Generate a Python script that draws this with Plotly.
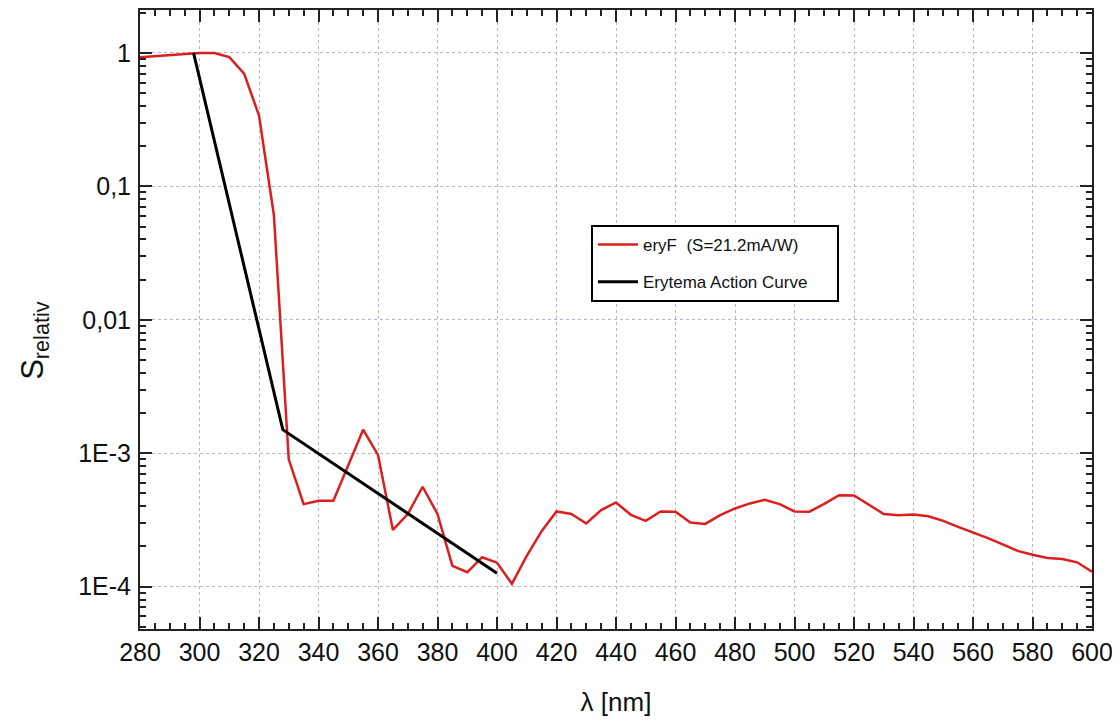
import plotly.graph_objects as go

# Red curve: eryF sensor relative spectral responsivity
wl_red = [280, 285, 290, 295, 300, 305, 310, 315, 320, 325, 330, 335, 340, 345, 350,
          355, 360, 365, 370, 375, 380, 385, 390, 395, 400, 405, 410, 415, 420, 425,
          430, 435, 440, 445, 450, 455, 460, 465, 470, 475, 480, 485, 490, 495, 500,
          505, 510, 515, 520, 525, 530, 535, 540, 545, 550, 555, 560, 565, 570, 575,
          580, 585, 590, 595, 600]
s_red = [0.93, 0.95, 0.97, 0.99, 1.0, 1.0, 0.93, 0.70, 0.34, 0.061, 9.0e-4, 4.15e-4, 4.4e-4, 4.4e-4, 8.0e-4,
         1.5e-3, 9.7e-4, 2.66e-4, 3.5e-4, 5.6e-4, 3.5e-4, 1.43e-4, 1.28e-4, 1.66e-4, 1.51e-4, 1.05e-4, 1.7e-4, 2.6e-4, 3.66e-4, 3.5e-4,
         2.97e-4, 3.74e-4, 4.27e-4, 3.45e-4, 3.11e-4, 3.66e-4, 3.64e-4, 3.02e-4, 2.95e-4, 3.43e-4, 3.85e-4, 4.2e-4, 4.47e-4, 4.15e-4, 3.66e-4,
         3.64e-4, 4.17e-4, 4.84e-4, 4.82e-4, 4.08e-4, 3.5e-4, 3.43e-4, 3.47e-4, 3.37e-4, 3.11e-4, 2.8e-4, 2.55e-4, 2.31e-4, 2.07e-4, 1.85e-4,
         1.73e-4, 1.64e-4, 1.61e-4, 1.52e-4, 1.29e-4]

# Black curve: erythema action curve
wl_black = [298, 328, 400]
s_black = [1.0, 1.5e-3, 1.26e-4]

x_ticks = list(range(280, 601, 20))
y_tickvals = [1, 0.1, 0.01, 1e-3, 1e-4]
y_ticktext = ["1", "0,1", "0,01", "1E-3", "1E-4"]

FONT = "Liberation Sans, Arial, sans-serif"
GRID = "#b2b4d4"
PAD = "\u00a0" * 5

fig = go.Figure()
fig.add_trace(go.Scatter(x=wl_red, y=s_red, mode="lines", name="eryF  (S=21.2mA/W)",
                         line=dict(color="#dc1e1e", width=2.5), legendgroup="a"))
fig.add_trace(go.Scatter(x=wl_black, y=s_black, mode="lines", name="Erytema Action Curve" + PAD,
                         line=dict(color="black", width=3), legendgroup="b"))

# page body has an 8px margin -> figure is 8px smaller and margins shifted
fig.update_layout(
    width=1112, height=712,
    margin=dict(l=132, r=28, t=2, b=91, autoexpand=False),
    paper_bgcolor="white", plot_bgcolor="white",
    font=dict(family=FONT, color="#111"),
    showlegend=True,
    legend=dict(x=0.4737, y=0.6527, xanchor="left", yanchor="top",
                bgcolor="white", bordercolor="black", borderwidth=2,
                font=dict(size=17, family=FONT), tracegroupgap=12,
                itemwidth=40),
    xaxis=dict(range=[280, 600], tickvals=x_ticks, ticks="inside", ticklen=12, tickwidth=2,
               tickcolor="#222", showline=True, linecolor="#222", linewidth=2, mirror="ticks",
               showgrid=True, gridcolor=GRID, griddash="dot", gridwidth=1, zeroline=False,
               tickfont=dict(size=25, family=FONT), ticklabelstandoff=0,
               minor=dict(dtick=5, tick0=280, ticks="inside", ticklen=6, tickwidth=1.5,
                          tickcolor="#222", showgrid=False),
               title=dict(text="λ [nm]", font=dict(size=26, family=FONT), standoff=28)),
    yaxis=dict(type="log", range=[-4.318, 0.322], tickvals=y_tickvals, ticktext=y_ticktext,
               ticks="inside", ticklen=12, tickwidth=2, tickcolor="#222",
               showline=True, linecolor="#222", linewidth=2, mirror="ticks",
               showgrid=True, gridcolor=GRID, griddash="dot", gridwidth=1, zeroline=False,
               tickfont=dict(size=25, family=FONT), ticklabelstandoff=2,
               minor=dict(dtick="D1", ticks="inside", ticklen=6, tickwidth=1.5,
                          tickcolor="#222", showgrid=False)),
)

fig.add_annotation(text="S<sub>relativ</sub>", xref="paper", yref="paper",
                   x=-0.111, y=0.466, xanchor="center", yanchor="middle",
                   textangle=-90, showarrow=False,
                   font=dict(size=31, family=FONT, color="#111"))

fig.write_html("out.html")
